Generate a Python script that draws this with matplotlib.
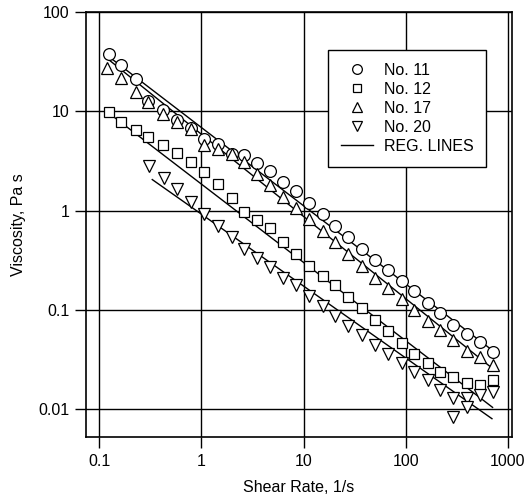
import matplotlib
matplotlib.use("Agg")
import matplotlib.pyplot as plt
from matplotlib.lines import Line2D

plt.rcParams['font.family'] = ['Liberation Sans', 'DejaVu Sans']

# Shear rate grid (1/s)
rate_11 = [0.125, 0.164, 0.230, 0.301, 0.423, 0.578, 0.793, 1.06, 1.46, 2.0,
           2.61, 3.50, 4.69, 6.29, 8.43, 11.3, 15.5, 20.3, 27.2, 37.2,
           49.9, 66.8, 91.6, 120, 164, 215, 288, 395, 530, 710]
visc_11 = [38.1, 28.9, 20.9, 12.8, 10.2, 8.25, 6.85, 5.31, 4.73, 3.75,
           3.66, 3.04, 2.53, 1.96, 1.59, 1.20, 0.933, 0.706, 0.535, 0.414,
           0.314, 0.249, 0.193, 0.153, 0.118, 0.0918, 0.0711, 0.0577, 0.0469, 0.0380]

rate_12 = rate_11
visc_12 = [9.93, 7.87, 6.54, 5.56, 4.52, 3.84, 3.11, 2.47, 1.87, 1.35,
           0.977, 0.812, 0.674, 0.487, 0.369, 0.279, 0.221, 0.176, 0.133, 0.105,
           0.0798, 0.0605, 0.0458, 0.0355, 0.0294, 0.0239, 0.0208, 0.0185, 0.0173, 0.0194]

rate_17 = [0.120] + rate_11[1:]
visc_17 = [27.5, 21.8, 15.8, 12.5, 9.48, 7.87, 6.70, 4.52, 4.21, 3.75,
           3.11, 2.36, 1.79, 1.38, 1.05, 0.831, 0.629, 0.487, 0.369, 0.279,
           0.211, 0.164, 0.127, 0.0984, 0.0780, 0.0619, 0.0491, 0.0389, 0.0331, 0.0281]

rate_20 = [0.31, 0.43, 0.58, 0.79, 1.06, 1.46, 2.0, 2.61, 3.5, 4.69,
           6.29, 8.43, 11.3, 15.5, 20.3, 27.2, 37.2, 49.9, 66.8, 91.6,
           120, 164, 215, 288, 288, 395, 395, 530, 710]
visc_20 = [2.78, 2.15, 1.63, 1.23, 0.933, 0.706, 0.535, 0.414, 0.329, 0.267,
           0.211, 0.176, 0.139, 0.110, 0.0857, 0.0679, 0.0551, 0.0447, 0.0355, 0.0288,
           0.0234, 0.0194, 0.0157, 0.0128, 0.0084, 0.0128, 0.0106, 0.0137, 0.0150]

# Regression lines (end points)
reg_rate_11 = [0.12, 710]
reg_visc_11 = [36.4, 0.0389]
reg_rate_17 = [0.12, 710]
reg_visc_17 = [33.9, 0.0256]
reg_rate_12 = [0.137, 710]
reg_visc_12 = [8.85, 0.0104]
reg_rate_20 = [0.33, 700]
reg_visc_20 = [2.05, 0.0080]

legend_labels = ["No. 11", "No. 12", "No. 17", "No. 20", "REG. LINES"]

FS = 11.5

fig = plt.figure(figsize=(5.32, 4.97), dpi=100)
ax = fig.add_axes([0.1617, 0.1207, 0.9624 - 0.1617, 0.9759 - 0.1207])
ax.set_xscale('log')
ax.set_yscale('log')
ax.set_xlim(0.0741, 1100)
ax.set_ylim(0.00523, 100)

mk = dict(linestyle='none', markerfacecolor='white', markeredgecolor='black',
          markeredgewidth=0.9, zorder=3)
ax.plot(rate_11, visc_11, marker='o', markersize=8.5, **mk)
ax.plot(rate_12, visc_12, marker='s', markersize=7.5, **mk)
ax.plot(rate_17, visc_17, marker='^', markersize=8.5, **mk)
ax.plot(rate_20, visc_20, marker='v', markersize=8.5, **mk)

for rx, ry in [(reg_rate_11, reg_visc_11), (reg_rate_17, reg_visc_17),
               (reg_rate_12, reg_visc_12), (reg_rate_20, reg_visc_20)]:
    ax.plot(rx, ry, color='black', linewidth=1.0, zorder=2)

ax.set_xticks([0.1, 1, 10, 100, 1000])
ax.set_xticklabels(["0.1", "1", "10", "100", "1000"])
ax.set_yticks([0.01, 0.1, 1, 10, 100])
ax.set_yticklabels(["0.01", "0.1", "1", "10", "100"])
ax.minorticks_off()
ax.tick_params(axis='both', direction='out', length=8, width=1.0, labelsize=FS,
               colors='black', pad=4)
ax.grid(True, which='major', color='black', linewidth=1.0)
for s in ax.spines.values():
    s.set_linewidth(1.2)

ax.set_xlabel("Shear Rate, 1/s", fontsize=FS, labelpad=8)
ax.set_ylabel("Viscosity, Pa s", fontsize=FS, labelpad=9)

handles = [
    Line2D([], [], marker='o', markersize=7, **mk),
    Line2D([], [], marker='s', markersize=6, **mk),
    Line2D([], [], marker='^', markersize=7, **mk),
    Line2D([], [], marker='v', markersize=7, **mk),
    Line2D([], [], color='black', linewidth=1.0),
]
leg = ax.legend(handles, legend_labels, loc='upper left',
                bbox_to_anchor=((328 - 86) / 426, 1 - (50 - 12) / 425),
                frameon=True, fancybox=False, edgecolor='black', framealpha=1,
                fontsize=FS, handlelength=2.0, borderpad=0.8, labelspacing=0.25,
                handletextpad=0.7, borderaxespad=0)
leg.get_frame().set_linewidth(1.0)

fig.savefig("out.png", dpi=100)
